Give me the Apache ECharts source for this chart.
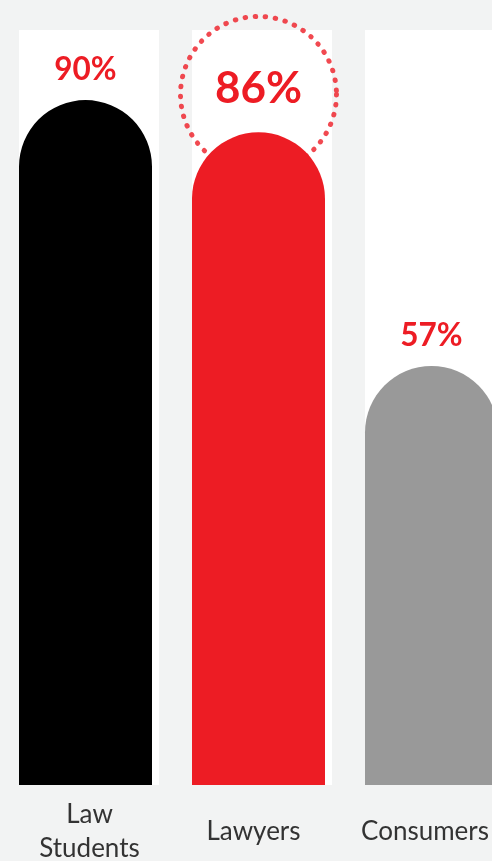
<!DOCTYPE html>
<html><head><meta charset="utf-8">
<script src="https://cdn.jsdelivr.net/npm/echarts@6/dist/echarts.min.js"></script>
<style>html,body{margin:0;padding:0;background:#f2f3f3;}#c{width:492px;height:861px;}</style>
</head><body><div id="c"></div>
<script>
const categories = ['Law\nStudents', 'Lawyers', 'Consumers'];
const values = [90, 86, 57];
const barColors = ['#000000', '#ED1C24', '#999999'];
const highlightIndex = 1;
const circleValue = 90.7;

const chart = echarts.init(document.getElementById('c'), null, {renderer: 'canvas'});
const labelPads = [[0, 0, 0, 8], [0, 10, 0, 0], [0, 13, 0, 0]];
const labelStyle = {color: '#333333', fontFamily: 'Lato', fontSize: 26, lineHeight: 34, verticalAlign: 'middle', align: 'center'};
const barData = values.map((v, i) => ({
  value: v,
  itemStyle: {color: barColors[i]},
  label: i === highlightIndex ? {fontSize: 44, distance: 22} : {}
}));
chart.setOption({
  backgroundColor: '#f2f3f3',
  animation: false,
  grid: {left: -1, width: 519, top: 30, bottom: 76, containLabel: false, outerBoundsMode: 'none'},
  xAxis: [{
    type: 'category',
    data: categories.map((c, i) => ({value: c, textStyle: Object.assign({}, labelStyle, {padding: labelPads[i]})})),
    axisLine: {show: false}, axisTick: {show: false},
    axisLabel: Object.assign({}, labelStyle, {margin: 47, interval: 0, hideOverlap: false})
  }],
  yAxis: {type: 'value', min: 5, max: 98.7, show: false, splitLine: {show: false}},
  series: [
    {
      type: 'bar', data: values, barWidth: 140, barGap: '-100%',
      itemStyle: {color: 'rgba(0,0,0,0)'},
      showBackground: true, backgroundStyle: {color: '#ffffff'}, z: 1, silent: true
    },
    {
      type: 'scatter', data: [[categories[highlightIndex], circleValue]],
      symbol: 'circle', symbolSize: 156, z: 2, silent: true,
      itemStyle: {color: 'rgba(0,0,0,0)', borderColor: '#ED1C24', borderWidth: 5, borderType: [0.5, 9.6], borderCap: 'round'}
    },
    {
      type: 'bar', data: barData, barWidth: 133, z: 3,
      itemStyle: {borderRadius: [66.5, 66.5, 0, 0]},
      label: {show: true, position: 'top', distance: 14, formatter: '{c}%', color: '#ED1C24', fontFamily: 'Lato', fontWeight: 'bold', fontSize: 31.5}
    }
  ]
});
</script></body></html>
